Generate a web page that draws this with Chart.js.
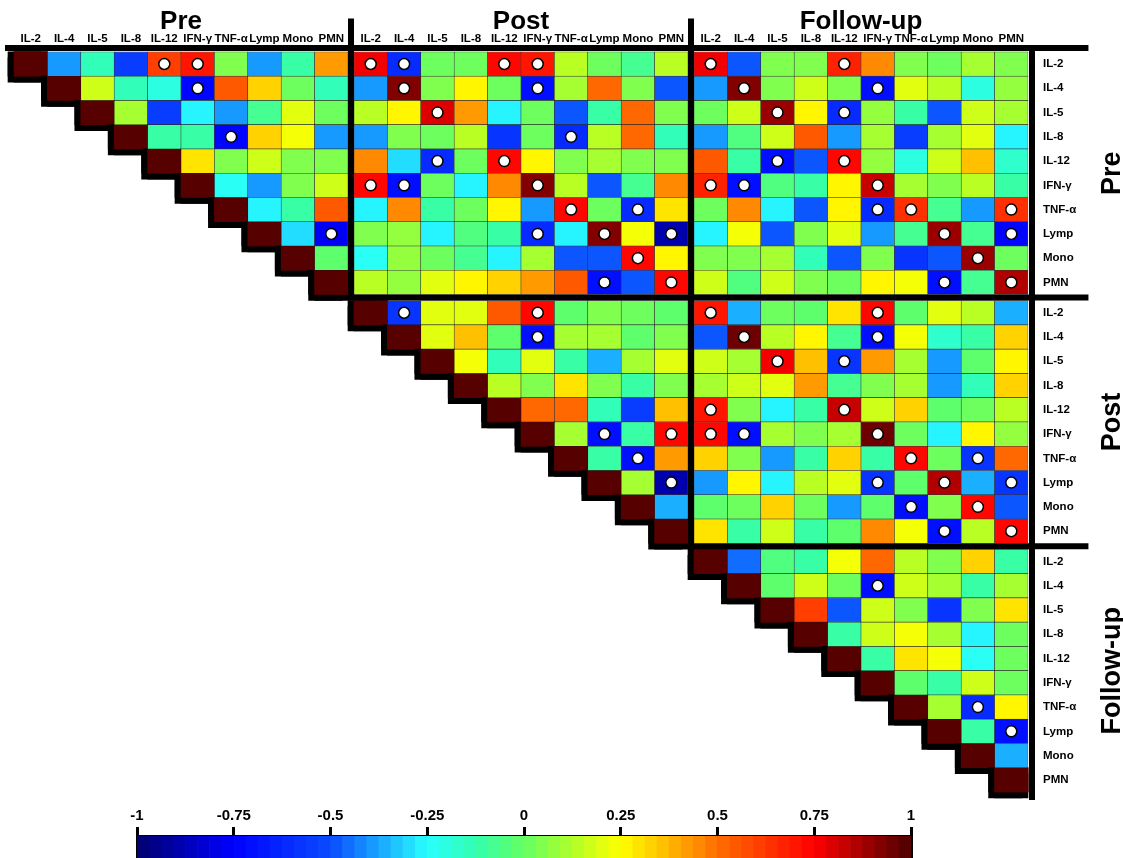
<!DOCTYPE html>
<html>
<head>
<meta charset="utf-8">
<script src="https://cdn.jsdelivr.net/npm/chart.js@4.4.1/dist/chart.umd.min.js"></script>
<style>
  html, body { margin: 0; padding: 0; background: #fff; }
  #wrap { position: relative; width: 1123px; height: 858px; overflow: hidden; }
  #matrix { position: absolute; left: 0; top: 0; }
  #colorbar { position: absolute; left: 0; top: 796px; }
</style>
</head>
<body>
<div id="wrap">
  <canvas id="matrix" width="1123" height="800"></canvas>
  <canvas id="colorbar" width="1123" height="62"></canvas>
</div>
<script>
const variables = ['IL-2', 'IL-4', 'IL-5', 'IL-8', 'IL-12', 'IFN-γ', 'TNF-α', 'Lymp', 'Mono', 'PMN'];
const timePoints = ['Pre', 'Post', 'Follow-up'];
const colorbarTicks = [-1, -0.75, -0.5, -0.25, 0, 0.25, 0.5, 0.75, 1];

const n = null;

// correlation blocks, rows = first time point, columns = second time point
const prePre = [
    [1, -0.38, -0.15, -0.55, 0.62, 0.70, 0.05, -0.38, -0.12, 0.42],
    [n, 1, 0.18, -0.15, -0.20, -0.72, 0.55, 0.32, 0.02, -0.13],
    [n, n, 1, 0.12, -0.55, -0.26, -0.38, -0.08, 0.20, 0.02],
    [n, n, n, 1, -0.10, -0.10, -0.72, 0.32, 0.24, -0.40],
    [n, n, n, n, 1, 0.29, 0.05, 0.17, 0.05, 0.05],
    [n, n, n, n, n, 1, -0.22, -0.38, 0.05, 0.18],
    [n, n, n, n, n, n, 1, -0.26, -0.10, 0.55],
    [n, n, n, n, n, n, n, 1, -0.30, -0.78],
    [n, n, n, n, n, n, n, n, 1, -0.03],
    [n, n, n, n, n, n, n, n, n, 1]
];
const prePost = [
    [0.75, -0.60, 0.02, 0.02, 0.73, 0.70, 0.13, 0.00, -0.08, 0.13],
    [-0.38, 0.92, 0.05, 0.27, 0.02, -0.70, 0.12, 0.50, 0.05, -0.48],
    [0.13, 0.27, 0.80, 0.42, -0.26, 0.02, -0.50, -0.10, 0.50, 0.05],
    [-0.38, 0.05, 0.02, 0.13, -0.57, 0.02, -0.60, 0.13, 0.50, -0.15],
    [0.46, -0.30, -0.60, 0.00, 0.73, 0.27, 0.05, 0.10, 0.05, 0.05],
    [0.73, -0.70, 0.02, -0.26, 0.46, 0.92, 0.13, -0.50, -0.08, 0.46],
    [-0.26, 0.46, -0.10, 0.00, 0.27, -0.38, 0.73, 0.02, -0.60, 0.30],
    [0.05, 0.07, -0.26, -0.05, -0.12, -0.60, -0.26, 0.92, 0.23, -0.88],
    [-0.22, 0.07, 0.02, -0.08, -0.26, 0.10, -0.50, -0.50, 0.73, 0.27],
    [0.13, 0.07, 0.20, 0.27, 0.33, 0.42, 0.56, -0.70, -0.50, 0.73]
];
const preFollow = [
    [0.75, -0.50, 0.05, 0.05, 0.67, 0.46, 0.05, 0.02, 0.10, 0.05],
    [-0.38, 0.92, 0.05, 0.18, 0.05, -0.70, 0.20, 0.13, -0.20, 0.07],
    [0.02, 0.17, 0.90, 0.27, -0.60, 0.07, -0.10, -0.48, 0.18, 0.12],
    [-0.40, -0.05, 0.17, 0.55, -0.40, 0.10, -0.55, 0.12, 0.20, -0.26],
    [0.55, -0.10, -0.70, -0.50, 0.73, 0.07, -0.20, 0.18, 0.37, -0.18],
    [0.67, -0.70, -0.05, -0.10, 0.27, 0.82, 0.10, 0.05, 0.13, -0.10],
    [0.02, 0.46, -0.27, -0.50, 0.27, -0.60, 0.63, -0.08, -0.40, 0.63],
    [-0.27, 0.24, -0.48, 0.05, 0.20, -0.40, -0.08, 0.90, -0.08, -0.72],
    [0.05, 0.05, 0.10, -0.15, -0.48, 0.05, -0.57, -0.48, 0.90, 0.02],
    [0.18, -0.05, 0.18, 0.05, 0.00, 0.27, 0.24, -0.70, -0.08, 0.85]
];
const postPost = [
    [1, -0.57, 0.20, 0.20, 0.55, 0.73, -0.03, 0.05, 0.02, -0.03],
    [n, 1, 0.20, 0.37, -0.03, -0.70, 0.12, 0.10, -0.03, 0.05],
    [n, n, 1, 0.24, -0.15, 0.20, -0.10, -0.35, 0.12, 0.20],
    [n, n, n, 1, 0.13, 0.05, 0.29, 0.05, -0.10, 0.05],
    [n, n, n, n, 1, 0.50, 0.50, -0.15, -0.55, 0.37],
    [n, n, n, n, n, 1, 0.12, -0.70, -0.10, 0.73],
    [n, n, n, n, n, n, 1, -0.12, -0.70, 0.42],
    [n, n, n, n, n, n, n, 1, 0.12, -0.88],
    [n, n, n, n, n, n, n, n, 1, -0.35],
    [n, n, n, n, n, n, n, n, n, 1]
];
const postFollow = [
    [0.70, -0.35, 0.02, -0.03, 0.29, 0.73, -0.03, 0.20, 0.13, -0.35],
    [-0.48, 0.94, 0.13, 0.27, -0.08, -0.70, 0.24, -0.17, -0.12, 0.33],
    [0.18, 0.10, 0.77, 0.35, -0.57, 0.42, 0.10, -0.38, -0.03, 0.27],
    [0.10, 0.18, 0.20, 0.42, -0.08, 0.05, 0.10, -0.38, -0.15, 0.33],
    [0.70, 0.05, -0.26, -0.10, 0.82, 0.18, 0.33, -0.03, 0.02, 0.13],
    [0.73, -0.70, 0.12, 0.05, 0.10, 0.94, 0.02, -0.28, 0.27, 0.07],
    [0.33, 0.05, -0.38, -0.10, 0.32, -0.10, 0.73, 0.02, -0.57, 0.50],
    [-0.40, 0.27, -0.28, 0.13, 0.21, -0.57, -0.03, 0.85, -0.35, -0.57],
    [-0.03, 0.02, 0.33, 0.02, -0.40, -0.03, -0.70, 0.05, 0.73, -0.50],
    [0.29, -0.12, 0.17, -0.12, -0.03, 0.46, 0.24, -0.70, 0.13, 0.73]
];
const followFollow = [
    [1, -0.46, -0.05, -0.10, 0.24, 0.50, 0.13, 0.05, 0.33, -0.12],
    [n, 1, -0.03, 0.17, 0.02, -0.70, 0.17, 0.10, -0.10, 0.10],
    [n, n, 1, 0.60, -0.48, 0.18, 0.05, -0.57, 0.05, 0.29],
    [n, n, n, 1, -0.10, 0.18, 0.23, 0.10, -0.26, 0.02],
    [n, n, n, n, 1, -0.10, 0.29, 0.24, -0.22, 0.02],
    [n, n, n, n, n, 1, -0.03, -0.10, 0.18, 0.02],
    [n, n, n, n, n, n, 1, 0.12, -0.60, 0.27],
    [n, n, n, n, n, n, n, 1, -0.12, -0.70],
    [n, n, n, n, n, n, n, n, 1, -0.35],
    [n, n, n, n, n, n, n, n, n, 1]
];

// significant cells [row, col] within each block
const prePreSig = [[0, 4], [0, 5], [1, 5], [3, 6], [7, 9]];
const prePostSig = [[0, 0], [0, 1], [0, 4], [0, 5], [1, 1], [1, 5], [2, 2], [3, 6], [4, 2], [4, 4],
    [5, 0], [5, 1], [5, 5], [6, 6], [6, 8], [7, 5], [7, 7], [7, 9], [8, 8], [9, 7], [9, 9]];
const preFollowSig = [[0, 0], [0, 4], [1, 1], [1, 5], [2, 2], [2, 4], [4, 2], [4, 4], [5, 0], [5, 1],
    [5, 5], [6, 5], [6, 6], [6, 9], [7, 7], [7, 9], [8, 8], [9, 7], [9, 9]];
const postPostSig = [[0, 1], [0, 5], [1, 5], [5, 7], [5, 9], [6, 8], [7, 9]];
const postFollowSig = [[0, 0], [0, 5], [1, 1], [1, 5], [2, 2], [2, 4], [4, 0], [4, 4], [5, 0], [5, 1],
    [5, 5], [6, 6], [6, 8], [7, 5], [7, 7], [7, 9], [8, 6], [8, 8], [9, 7], [9, 9]];
const followFollowSig = [[1, 5], [6, 8], [7, 9]];

const blocks = [
    { row: 0, col: 0, values: prePre, sig: prePreSig },
    { row: 0, col: 1, values: prePost, sig: prePostSig },
    { row: 0, col: 2, values: preFollow, sig: preFollowSig },
    { row: 1, col: 1, values: postPost, sig: postPostSig },
    { row: 1, col: 2, values: postFollow, sig: postFollowSig },
    { row: 2, col: 2, values: followFollow, sig: followFollowSig }
];

// jet-like colour map
const stops = [
    [-1, [0, 0, 110]],
    [-0.75, [0, 0, 255]],
    [-0.5, [10, 75, 255]],
    [-0.25, [40, 255, 255]],
    [-0.125, [50, 255, 175]],
    [0, [100, 255, 100]],
    [0.125, [175, 255, 40]],
    [0.25, [255, 255, 0]],
    [0.5, [255, 110, 0]],
    [0.75, [255, 0, 0]],
    [1, [75, 0, 0]]
];
const levels = 64;

function levelCenter(i) {
    return -1 + (i + 0.5) * 2 / levels;
}

function colorFor(v) {
    const i = Math.max(0, Math.min(levels - 1, Math.floor((v + 1) / 2 * levels)));
    const t = levelCenter(i);
    for (let k = 1; k < stops.length; k++) {
        if (t <= stops[k][0]) {
            const [v0, c0] = stops[k - 1];
            const [v1, c1] = stops[k];
            const f = (t - v0) / (v1 - v0);
            const c = c0.map((a, j) => Math.round(a + (c1[j] - a) * f));
            return `rgb(${c[0]}, ${c[1]}, ${c[2]})`;
        }
    }
    return 'rgb(75, 0, 0)';
}

const size = variables.length;
const blockCount = timePoints.length;

// blocks are separated by a small gap that the thick rules sit in
const colGap = 0.18;
const rowGap = 0.25;
const colPos = (block, c) => block * (size + colGap) + c;
const rowPos = (block, r) => block * (size + rowGap) + r;
const xEnd = colPos(blockCount - 1, size) + 0.12;
const yEnd = rowPos(blockCount - 1, size);
const yTop = -0.16;

const cells = [];
const diagonal = [];
const marks = [];
blocks.forEach(block => {
    block.values.forEach((rowValues, r) => {
        rowValues.forEach((v, c) => {
            if (v === null) return;
            const y0 = rowPos(block.row, r);
            const point = { x: colPos(block.col, c) + 0.5, y: [y0, y0 + 1], v: v };
            if (block.row === block.col && r === c) diagonal.push(point); else cells.push(point);
        });
    });
    block.sig.forEach(([r, c]) => {
        marks.push({ x: colPos(block.col, c) + 0.5, y: rowPos(block.row, r) + 0.5 });
    });
});

const reach = xEnd + 1.6;
const rules = [
    [[-0.18, yTop], [reach, yTop]],
    [[xEnd, yTop], [xEnd, yEnd + 0.3]]
];
for (let t = 1; t < blockCount; t++) {
    const xs = colPos(t, 0) - colGap / 2;
    const ys = rowPos(t, 0) - rowGap / 2;
    rules.push([[xs, -1.25], [xs, ys]]);
    rules.push([[xs, ys], [reach, ys]]);
}

const columnCenters = [];
const rowCenters = [];
for (let t = 0; t < blockCount; t++) {
    for (let i = 0; i < size; i++) {
        columnCenters.push(colPos(t, i) + 0.5);
        rowCenters.push(rowPos(t, i) + 0.5);
    }
}

const labelFont = { family: "'Liberation Sans', Arial, sans-serif", size: 11.5, weight: 'bold' };

const diagShadow = {
    id: 'diagShadow',
    beforeDatasetDraw(chart, args) {
        const offset = chart.data.datasets[args.index].castShadow;
        if (!offset) return;
        const ctx = chart.ctx;
        ctx.save();
        ctx.shadowColor = '#000';
        ctx.shadowOffsetX = offset[0];
        ctx.shadowOffsetY = offset[1];
        ctx.shadowBlur = 0;
    },
    afterDatasetDraw(chart, args) {
        if (chart.data.datasets[args.index].castShadow) chart.ctx.restore();
    }
};

const groupTitles = {
    id: 'groupTitles',
    afterDraw(chart) {
        const ctx = chart.ctx;
        const xs = chart.scales.x;
        const ys = chart.scales.y;
        ctx.save();
        ctx.fillStyle = '#000';
        ctx.textAlign = 'center';
        ctx.textBaseline = 'alphabetic';
        timePoints.forEach((name, t) => {
            ctx.font = "bold 26px 'Liberation Sans', Arial, sans-serif";
            ctx.fillText(name, xs.getPixelForValue(colPos(t, size / 2)), 29);
            ctx.save();
            ctx.translate(1120, ys.getPixelForValue(rowPos(t, size / 2)));
            ctx.rotate(-Math.PI / 2);
            ctx.font = "bold 27px 'Liberation Sans', Arial, sans-serif";
            ctx.fillText(name, 0, 0);
            ctx.restore();
        });
        ctx.restore();
    }
};

const ruleDatasets = rules.map(seg => ({
    type: 'line',
    data: seg.map(([x, y]) => ({ x: x, y: y })),
    borderColor: '#000',
    borderWidth: 6,
    borderCapStyle: 'square',
    pointRadius: 0,
    fill: false,
    tension: 0,
    clip: false,
    order: 1
}));

const diagonalDatasets = [[-6, 0], [0, 6], [-6, 6]].map(offset => ({
    data: diagonal,
    castShadow: offset,
    backgroundColor: ctx => ctx.raw ? colorFor(ctx.raw.v) : '#fff',
    borderWidth: 0,
    grouped: false,
    barPercentage: 1,
    categoryPercentage: 1,
    clip: false,
    order: 3
}));

new Chart(document.getElementById('matrix'), {
    type: 'bar',
    data: {
        datasets: [
            {
                type: 'scatter',
                data: marks,
                pointRadius: 5.5,
                pointBackgroundColor: '#fff',
                pointBorderColor: '#000',
                pointBorderWidth: 1.5,
                order: 0
            },
            ...ruleDatasets,
            {
                data: cells,
                backgroundColor: ctx => ctx.raw ? colorFor(ctx.raw.v) : '#fff',
                borderColor: 'rgba(20, 20, 20, 0.8)',
                borderWidth: 0.6,
                borderSkipped: false,
                grouped: false,
                barPercentage: 1,
                categoryPercentage: 1,
                order: 2
            },
            ...diagonalDatasets
        ]
    },
    options: {
        responsive: false,
        animation: false,
        events: [],
        layout: { padding: { left: 14, top: 12, right: 0, bottom: 8 } },
        plugins: {
            legend: { display: false },
            tooltip: { enabled: false }
        },
        scales: {
            x: {
                type: 'linear',
                position: 'top',
                min: 0,
                max: xEnd,
                offset: false,
                grid: { display: false, drawTicks: false, offset: false },
                border: { display: false },
                afterBuildTicks: axis => {
                    axis.ticks = columnCenters.map(v => ({ value: v }));
                },
                afterFit: axis => {
                    axis.height = 36;
                    axis.paddingLeft = 0;
                    axis.paddingRight = 0;
                },
                ticks: {
                    autoSkip: false,
                    maxRotation: 0,
                    padding: 2,
                    color: '#000',
                    font: labelFont,
                    callback: (value, index) => variables[index % size]
                }
            },
            y: {
                type: 'linear',
                position: 'right',
                reverse: true,
                min: yTop,
                max: yEnd,
                grid: { display: false, drawTicks: false },
                border: { display: false },
                afterBuildTicks: axis => {
                    axis.ticks = rowCenters.map(v => ({ value: v }));
                },
                afterFit: axis => {
                    axis.width = 91;
                    axis.paddingTop = 0;
                    axis.paddingBottom = 0;
                },
                ticks: {
                    autoSkip: false,
                    padding: 11,
                    color: '#000',
                    font: labelFont,
                    callback: (value, index) => variables[index % size]
                }
            }
        }
    },
    plugins: [diagShadow, groupTitles]
});

// colour bar
const barLevels = [];
for (let i = 0; i < levels; i++) barLevels.push({ x: levelCenter(i), y: 1 });

new Chart(document.getElementById('colorbar'), {
    type: 'bar',
    data: {
        datasets: [{
            data: barLevels,
            backgroundColor: ctx => ctx.raw ? colorFor(ctx.raw.x) : '#fff',
            borderWidth: 0,
            barPercentage: 1,
            categoryPercentage: 1
        }]
    },
    options: {
        responsive: false,
        animation: false,
        events: [],
        layout: { padding: { left: 137, right: 212, top: 0, bottom: 0 } },
        plugins: {
            legend: { display: false },
            tooltip: { enabled: false }
        },
        scales: {
            x: {
                type: 'linear',
                position: 'top',
                min: -1,
                max: 1,
                offset: false,
                z: 1,
                grid: { offset: false, color: '#000', lineWidth: 3, tickLength: 9, drawOnChartArea: true },
                border: { display: true, color: '#000', width: 3 },
                afterBuildTicks: axis => {
                    axis.ticks = colorbarTicks.map(v => ({ value: v }));
                },
                afterFit: axis => { axis.height = 40; },
                ticks: {
                    autoSkip: false,
                    maxRotation: 0,
                    padding: 2,
                    color: '#000',
                    font: { family: "'Liberation Sans', Arial, sans-serif", size: 15, weight: 'bold' },
                    callback: value => String(value)
                }
            },
            y: { display: false, min: 0, max: 1 }
        }
    }
});
</script>
</body>
</html>
